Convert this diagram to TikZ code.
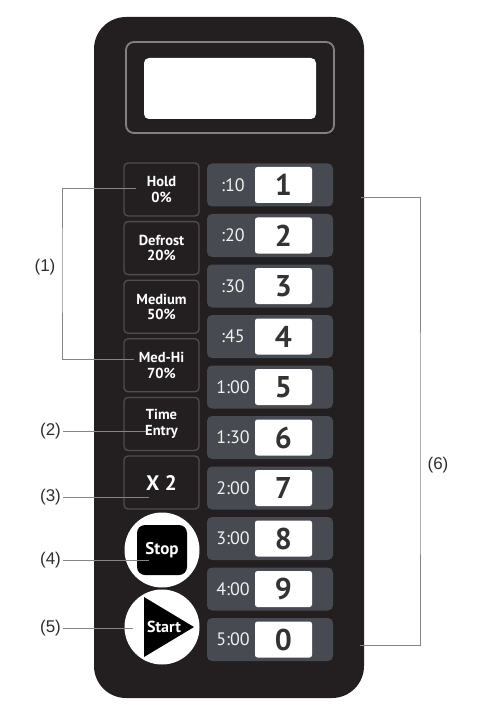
\documentclass[tikz,border=0pt]{standalone}
\usepackage{fontspec}
\setmainfont{Liberation Sans}
\newfontfamily\keyfont{PT Sans}
\usetikzlibrary{calc}
\definecolor{panelblk}{HTML}{231F20}
\definecolor{keyedge}{HTML}{4E4E4E}
\definecolor{keygray}{HTML}{474B51}
\definecolor{framegray}{HTML}{808080}
\definecolor{digitgray}{HTML}{333333}
\definecolor{leadgray}{HTML}{858585}
\definecolor{lbltext}{HTML}{2E2E2E}
\tikzset{
  panel/.style={
    rectangle, rounded corners=32pt, fill=panelblk,
    minimum width=270, minimum height=681,
  },
  funckey/.style={
    rectangle, rounded corners=4pt, draw=keyedge, fill=panelblk,
    line width=1.3pt, minimum width=75, minimum height=53,
    align=center, text=white, inner sep=0pt,
    font=\keyfont\bfseries\fontsize{14.5}{15.5}\selectfont,
  },
  numkey/.style={
    rectangle, rounded corners=5pt, fill=keygray,
    minimum width=126, minimum height=43,
  },
  digitbox/.style={
    rectangle, rounded corners=2.5pt, fill=white,
    minimum width=57, minimum height=36, inner sep=0pt,
    text=digitgray, font=\keyfont\bfseries\fontsize{30}{30}\selectfont,
  },
  timelbl/.style={
    text=white!88!gray, inner sep=0pt,
    font=\keyfont\fontsize{18}{18}\selectfont,
  },
  roundkey/.style={circle, fill=white, minimum size=75, inner sep=0pt},
  lead/.style={draw=leadgray, line width=0.9pt},
  callout/.style={text=lbltext, inner sep=0pt, font=\fontsize{17}{17}\selectfont},
}
\begin{document}
\begin{tikzpicture}[x=1pt, y=-1pt]
\useasboundingbox (0,0) rectangle (482,711);

% ── panel and display ──────────────────────────────────────────────────
\node[panel] (panel) at (229,357.5) {};
\node[rectangle, rounded corners=8pt, draw=framegray, line width=1.8pt,
      minimum width=208, minimum height=91] (frame) at (230,87.5) {};
\node[rectangle, rounded corners=5pt, fill=white,
      minimum width=172, minimum height=61] (display) at (230,88.5) {};

% ── function keys, left column ─────────────────────────────────────────
\foreach \txt/\nm [count=\i from 0] in
  {{Hold\\0\%}/hold, {Defrost\\20\%}/defrost, {Medium\\50\%}/medium,
   {Med-Hi\\70\%}/medhi, {Time\\Entry}/timekey}
  \node[funckey] (\nm) at (161.5,{189.5+58.6*\i}) {\txt};
\node[funckey, font=\keyfont\bfseries\fontsize{21}{21}\selectfont]
      (xtwo) at (161.5,482.5) {X 2};

% ── stop / start ───────────────────────────────────────────────────────
\node[roundkey] (stopkey) at (162,550) {};
\node[rectangle, rounded corners=8pt, fill=black, minimum size=50,
      text=white, font=\keyfont\bfseries\fontsize{17}{17}\selectfont]
      (stop) at (stopkey) {Stop};
\node[roundkey] (startkey) at (162,627) {};
\fill[black] ($(startkey)+(-18,-30)$) -- ($(startkey)+(32,0)$)
             -- ($(startkey)+(-18,30)$) -- cycle;
\node[text=white, inner sep=0pt, font=\keyfont\bfseries\fontsize{16}{16}\selectfont]
      (start) at ($(startkey)+(2,0)$) {Start};

% ── number keys, right column ──────────────────────────────────────────
\foreach \tm/\dg [count=\i from 0] in
  {:10/1, :20/2, :30/3, :45/4, 1:00/5, 1:30/6, 2:00/7, 3:00/8, 4:00/9, 5:00/0}
{
  \node[numkey]   (key\dg) at (270,{185+50.5*\i}) {};
  \node[digitbox] (dig\dg) at ($(key\dg)+(13.5,0)$) {\dg};
  \node[timelbl]  (tm\dg)  at ($(key\dg)+(-37,0)$) {\tm};
}

% ── callouts ───────────────────────────────────────────────────────────
\node[callout] (lbl1) at (45,267) {(1)};
\node[callout] (lbl2) at (50.5,431) {(2)};
\node[callout] (lbl3) at (50.5,497) {(3)};
\node[callout] (lbl4) at (50.5,560) {(4)};
\node[callout] (lbl5) at (50.5,628) {(5)};
\node[callout] (lbl6) at (438,465) {(6)};

% bracket for the power levels
\coordinate (brk1) at (62,267);
\draw[lead] ([xshift=13, yshift=1]hold.west) -| (brk1)
            |- ([xshift=11, yshift=5.5]medhi.west);

% single leads
\coordinate (pin2) at ([xshift=23]timekey.west);
\coordinate (pin3) at ([xshift=26]xtwo.west);
\coordinate (pin4) at ([xshift=12]stop.west);
\coordinate (pin5) at ([xshift=-14]start.west);
\draw[lead] ([xshift=2]lbl2.east) -- (pin2 |- lbl2.east);
\draw[lead] ([xshift=2]lbl3.east) -- (pin3 |- lbl3.east);
\draw[lead] ([xshift=2]lbl4.east) -- (pin4 |- lbl4.east);
\draw[lead] ([xshift=2]lbl5.east) -- (pin5 |- lbl5.east);

% bracket for the number pad
\coordinate (pin6a) at (361,197);
\coordinate (pin6b) at (360,645);
\coordinate (brk6)  at (420,465);
\draw[lead] (pin6a) -| (brk6) |- (pin6b);

\end{tikzpicture}
\end{document}
